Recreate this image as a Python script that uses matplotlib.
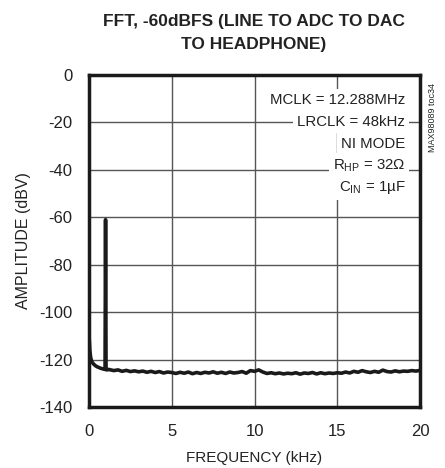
import numpy as np
import matplotlib
matplotlib.use("Agg")
import matplotlib.pyplot as plt
from matplotlib import font_manager

fams = [f.name for f in font_manager.fontManager.ttflist]
narrow = "Liberation Sans Narrow" if "Liberation Sans Narrow" in fams else "Liberation Sans"
plt.rcParams['font.family'] = [narrow, 'DejaVu Sans']
plt.rcParams['mathtext.fontset'] = 'custom'
plt.rcParams['mathtext.rm'] = narrow

# low end + 1kHz tone
freq_low = [0.02, 0.05, 0.1, 0.15, 0.2, 0.3, 0.4, 0.5, 0.6, 0.7, 0.8, 0.9, 0.97, 1.0, 1.03, 1.1, 1.2]
amp_low = [-112, -116, -119, -120.5, -121.2, -122, -122.6, -123.0, -123.3, -123.6, -123.8, -124.0,
           -124.1, -61, -124.2, -124.3, -124.1]

# noise floor, 1.25 .. 20 kHz every 0.25 kHz
freq_floor = np.arange(1.25, 20.01, 0.25)
amp_floor = [-124.2, -124.6, -124.3, -124.9, -124.5, -125.0, -124.7, -125.1,
             -124.8, -125.3, -124.9, -125.4, -125.0, -125.6, -125.2, -125.4,
             -125.8, -125.3, -125.7, -125.2, -125.9, -125.4, -125.8, -125.3,
             -125.6, -125.1, -125.7, -125.3, -125.8, -125.2, -125.6, -125.4,
             -125.0, -125.7, -124.6, -124.9, -124.3, -125.2, -125.8, -125.5,
             -125.9, -125.6, -126.0, -125.7, -125.9, -125.5, -126.1, -125.6,
             -125.8, -125.4, -126.0, -125.5, -125.9, -125.6, -125.8, -125.5,
             -125.7, -125.2, -125.6, -124.9, -125.3, -124.6, -125.1, -125.4,
             -124.9, -125.3, -124.4, -125.0, -125.2, -124.7, -125.1, -124.8,
             -124.9, -124.6, -124.8, -124.5]

x_ticks = [0, 5, 10, 15, 20]
y_ticks = [0, -20, -40, -60, -80, -100, -120, -140]
notes = ["MCLK = 12.288MHz", "LRCLK = 48kHz", "NI MODE",
         r"R$_{\mathregular{HP}}$ = 32Ω", r"C$_{\mathregular{IN}}$ = 1µF"]

fig = plt.figure(figsize=(4.45, 4.68), dpi=100)
ax = fig.add_axes([0.2, 0.13, 0.744, 0.71])

freq = np.concatenate([freq_low, freq_floor])
amp = np.concatenate([amp_low, amp_floor])
ax.plot(freq, amp, color="#1a1a1a", lw=2.6, zorder=3)

ax.set_xlim(0, 20)
ax.set_ylim(-140, 0)
ax.set_xticks(x_ticks)
ax.set_yticks(y_ticks)
ax.set_yticklabels([str(v) for v in y_ticks])
ax.grid(True, color="#555555", lw=1.0)
ax.tick_params(length=0, labelsize=12, colors="#222222")
ax.tick_params(axis="x", pad=12)
ax.tick_params(axis="y", pad=12)
for s in ax.spines.values():
    s.set_linewidth(2.5)
    s.set_color("#1a1a1a")

ax.set_xlabel("FREQUENCY (kHz)", fontsize=11, color="#222222", labelpad=9)
ax.set_ylabel("AMPLITUDE (dBV)", fontsize=11.5, color="#222222", labelpad=6)

fig.text(0.57, 0.953, "FFT, -60dBFS (LINE TO ADC TO DAC", ha="center", va="center",
         fontsize=12.5, fontweight="bold", color="#222222")
fig.text(0.57, 0.905, "TO HEADPHONE)", ha="center", va="center",
         fontsize=12.5, fontweight="bold", color="#222222")

for i, t in enumerate(notes):
    ax.text(0.955, 0.925 - i * 0.066, t, transform=ax.transAxes, ha="right", va="center",
            fontsize=10.8, color="#222222",
            bbox=dict(facecolor="white", edgecolor="none", pad=3.0))

fig.text(0.972, 0.75, "MAX98089 toc34", rotation=90, ha="center", va="center",
         fontsize=6.5, color="#222222")

fig.savefig("out.png", dpi=100)
